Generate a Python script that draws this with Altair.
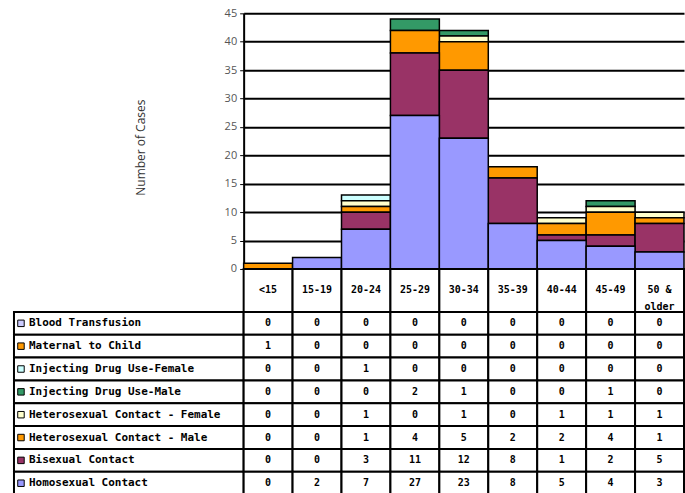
import altair as alt
import pandas as pd

# ---- data ----
age_groups = ["<15", "15-19", "20-24", "25-29", "30-34", "35-39", "40-44", "45-49", "50 & older"]
header_labels = ["<15", "15-19", "20-24", "25-29", "30-34", "35-39", "40-44", "45-49", "50 &\nolder"]

series_names = [
    "Blood Transfusion",
    "Maternal to Child",
    "Injecting Drug Use-Female",
    "Injecting Drug Use-Male",
    "Heterosexual Contact - Female",
    "Heterosexual Contact - Male",
    "Bisexual Contact",
    "Homosexual Contact",
]
series_colors = ["#CCCCFF", "#FF9900", "#CCFFFF", "#339966", "#FFFFCC", "#FF9900", "#993366", "#9999FF"]

blood_transfusion = [0, 0, 0, 0, 0, 0, 0, 0, 0]
maternal_to_child = [1, 0, 0, 0, 0, 0, 0, 0, 0]
idu_female = [0, 0, 1, 0, 0, 0, 0, 0, 0]
idu_male = [0, 0, 0, 2, 1, 0, 0, 1, 0]
het_female = [0, 0, 1, 0, 1, 0, 1, 1, 1]
het_male = [0, 0, 1, 4, 5, 2, 2, 4, 1]
bisexual = [0, 0, 3, 11, 12, 8, 1, 2, 5]
homosexual = [0, 2, 7, 27, 23, 8, 5, 4, 3]

series_values = [blood_transfusion, maternal_to_child, idu_female, idu_male,
                 het_female, het_male, bisexual, homosexual]

rows = []
n = len(series_names)
for i, (name, vals) in enumerate(zip(series_names, series_values)):
    for age, v in zip(age_groups, vals):
        rows.append({"series": name, "age": age, "value": v, "stack": n - 1 - i})
df = pd.DataFrame(rows)

TABLE_FONT = "DejaVu Sans Mono"
LEFT_W = 230
PLOT_W = 441
PLOT_H = 256
HEAD_H = 43
ROWS_H = 183

band = alt.Scale(paddingInner=0, paddingOuter=0)
x_age = alt.X("age:N", sort=age_groups, scale=band, axis=None)

# ---- stacked bars ----
bars = alt.Chart(df).transform_filter("datum.value > 0").mark_bar(
    stroke="black", strokeWidth=1.5
).encode(
    x=x_age,
    y=alt.Y(
        "value:Q",
        stack="zero",
        scale=alt.Scale(domain=[0, 45], nice=False),
        axis=alt.Axis(
            values=list(range(0, 46, 5)),
            grid=True, gridColor="black", gridWidth=2,
            domainColor="black", domainWidth=2,
            tickColor="black", tickSize=4, tickWidth=1,
            labelColor="#555555", labelFont="Open Sans", labelFontSize=11, labelPadding=3,
            title="Number of Cases", titleFont="Open Sans", titleFontSize=12,
            titleFontWeight="normal", titleColor="#333333",
            titleX=-96, titleY=PLOT_H / 2 + 6,
        ),
    ),
    color=alt.Color("series:N", scale=alt.Scale(domain=series_names, range=series_colors), legend=None),
    order=alt.Order("stack:Q", sort="ascending"),
).properties(width=PLOT_W, height=PLOT_H)

# ---- header row ----
header_df = pd.DataFrame({"age": age_groups, "label": header_labels})
hbase = alt.Chart(header_df).encode(x=x_age)
header = alt.layer(
    hbase.mark_rect(fill="white", stroke="black", strokeWidth=2),
    hbase.mark_text(font=TABLE_FONT, fontSize=10, fontWeight="bold", lineBreak="\n",
                    lineHeight=17, color="black").encode(text="label:N"),
).properties(width=PLOT_W, height=HEAD_H)

# ---- value cells ----
y_series = alt.Y("series:N", sort=series_names, scale=band, axis=None)
cbase = alt.Chart(df).encode(x=x_age, y=y_series)
values = alt.layer(
    cbase.mark_rect(fill="white", stroke="black", strokeWidth=2),
    cbase.mark_text(font=TABLE_FONT, fontSize=10, fontWeight="bold", color="black").encode(text="value:Q"),
).properties(width=PLOT_W, height=ROWS_H)

# ---- row labels ----
lab_df = pd.DataFrame({"series": series_names, "color": series_colors})
lbase = alt.Chart(lab_df).encode(y=y_series)
labels = alt.layer(
    lbase.mark_rect(fill="white", stroke="black", strokeWidth=2),
    lbase.mark_square(size=42, stroke="black", strokeWidth=1, opacity=1).encode(
        x=alt.value(7), color=alt.Color("color:N", scale=None)
    ),
    lbase.mark_text(font=TABLE_FONT, fontSize=11, fontWeight="bold", align="left",
                    color="black").encode(x=alt.value(15), text="series:N"),
).properties(width=LEFT_W, height=ROWS_H)

blank_df = pd.DataFrame({"v": [0]})


def blank(h):
    return alt.Chart(blank_df).mark_point(opacity=0).encode(
        x=alt.value(0), y=alt.value(0)
    ).properties(width=LEFT_W, height=h)


chart = alt.concat(
    blank(PLOT_H), bars,
    blank(HEAD_H), header,
    labels, values,
    columns=2, spacing=0, bounds="flush",
).properties(
    padding={"left": 11, "top": 7, "right": 0, "bottom": 0}
).configure_view(stroke=None)

chart.save("out.html", embed_options={"renderer": "svg", "actions": False})
